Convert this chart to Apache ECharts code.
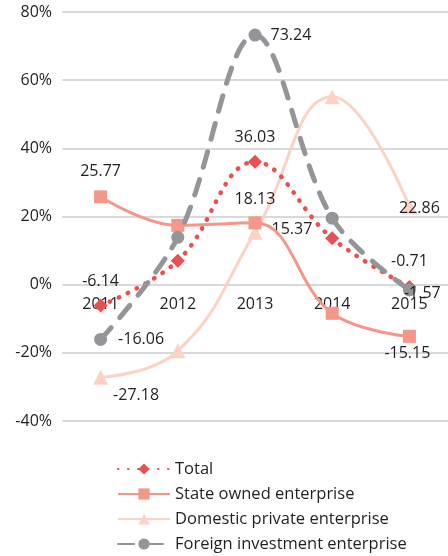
<!DOCTYPE html>
<html lang="en">
<head>
	<meta charset="UTF-8">
	<title>growth</title>
	<style type="text/css">
	body,html{
		width: 100%;
		height: 100%;
		margin: 0;
		padding: 0;
		background: #fff;
	}
	#container{
		width: 448px;
		height: 556px;
	}
	</style>
</head>
<body>
<div id="container"></div>
<script type="text/javascript" src="https://cdn.jsdelivr.net/npm/echarts@6/dist/echarts.min.js"></script>
<script type="text/javascript">
	var years = ['2011', '2012', '2013', '2014', '2015'];
	var seriesNames = ['Total', 'State owned enterprise', 'Domestic private enterprise', 'Foreign investment enterprise'];
	var total = [-6.14, 7.0, 36.03, 13.6, -0.71];
	var stateOwned = [25.77, 17.4, 18.13, -8.4, -15.15];
	var domestic = [-27.18, -19.4, 15.37, 55.1, 22.86];
	var foreign = [-16.06, 13.9, 73.24, 19.5, -1.57];
	var yTicks = [-40, 80, 20]; // min, max, interval

	// label positions for the points that carry a value label
	var labelPos = {
		total: {0: ['top', [0, -4]], 2: ['top', [0, -4]], 4: ['top', [0, -6]]},
		stateOwned: {0: ['top', [0, -6]], 2: ['top', [0, -4]], 4: ['bottom', [-2, -2]]},
		domestic: {0: ['right', [0, 18]], 2: ['right', [4, -3]], 4: ['inside', [10, 2]]},
		foreign: {0: ['right', [6, 0]], 2: ['right', [4, 0]], 4: ['right', [-17, 3]]}
	};

	var withLabels = function (values, pos) {
		return values.map(function (v, i) {
			var item = {value: v};
			if (pos[i]) {
				item.label = {show: true, position: pos[i][0], offset: pos[i][1]};
			}
			return item;
		});
	};

	var font = 'Open Sans';
	var labelStyle = {
		color: '#231f20',
		fontSize: 16,
		fontFamily: font,
		formatter: function (p) { return p.value.toFixed(2); }
	};

	var option = {
		backgroundColor: '#fff',
		animation: false,
		grid: {
			left: 62,
			right: -4,
			top: 12,
			bottom: 135
		},
		legend: {
			orient: 'vertical',
			left: 117,
			top: 459,
			padding: 0,
			itemWidth: 52,
			itemHeight: 14,
			itemGap: 5,
			textStyle: {
				color: '#231f20',
				fontSize: 16.5,
				lineHeight: 20,
				fontFamily: font
			},
			data: seriesNames
		},
		xAxis: {
			type: 'category',
			data: years,
			offset: -137,
			axisLine: {show: false},
			axisTick: {show: false},
			axisLabel: {
				color: '#231f20',
				fontSize: 16,
				fontFamily: font,
				margin: 12
			}
		},
		yAxis: {
			type: 'value',
			min: yTicks[0],
			max: yTicks[1],
			interval: yTicks[2],
			axisLine: {show: false},
			axisTick: {show: false},
			axisLabel: {
				color: '#231f20',
				fontSize: 16,
				fontFamily: font,
				margin: 10,
				formatter: '{value}%'
			},
			splitLine: {lineStyle: {color: '#d9d9d9', width: 2}}
		},
		series: [{
			name: seriesNames[0],
			type: 'line',
			smooth: 0.4,
			z: 4,
			data: withLabels(total, labelPos.total),
			symbol: 'diamond',
			symbolSize: 14,
			itemStyle: {color: '#e9504f'},
			lineStyle: {color: '#e9504f', width: 4.5, type: [0.5, 9.5], cap: 'round'},
			label: labelStyle
		}, {
			name: seriesNames[1],
			type: 'line',
			smooth: 0.4,
			z: 3,
			data: withLabels(stateOwned, labelPos.stateOwned),
			symbol: 'rect',
			symbolSize: 13,
			itemStyle: {color: '#f59788'},
			lineStyle: {color: '#f59788', width: 3},
			label: labelStyle
		}, {
			name: seriesNames[2],
			type: 'line',
			smooth: 0.45,
			z: 2,
			data: withLabels(domestic, labelPos.domestic),
			symbol: 'triangle',
			symbolSize: 15,
			itemStyle: {color: '#fcd2c4'},
			lineStyle: {color: '#fcd2c4', width: 3},
			label: labelStyle
		}, {
			name: seriesNames[3],
			type: 'line',
			smooth: 0.35,
			z: 5,
			data: withLabels(foreign, labelPos.foreign),
			symbol: 'circle',
			symbolSize: 13,
			itemStyle: {color: '#939598'},
			lineStyle: {color: '#939598', width: 5, type: [16, 13], cap: 'round'},
			label: labelStyle
		}]
	};
	var container = echarts.init(document.getElementById('container'));
	container.setOption(option, true);
</script>
</body>
</html>
